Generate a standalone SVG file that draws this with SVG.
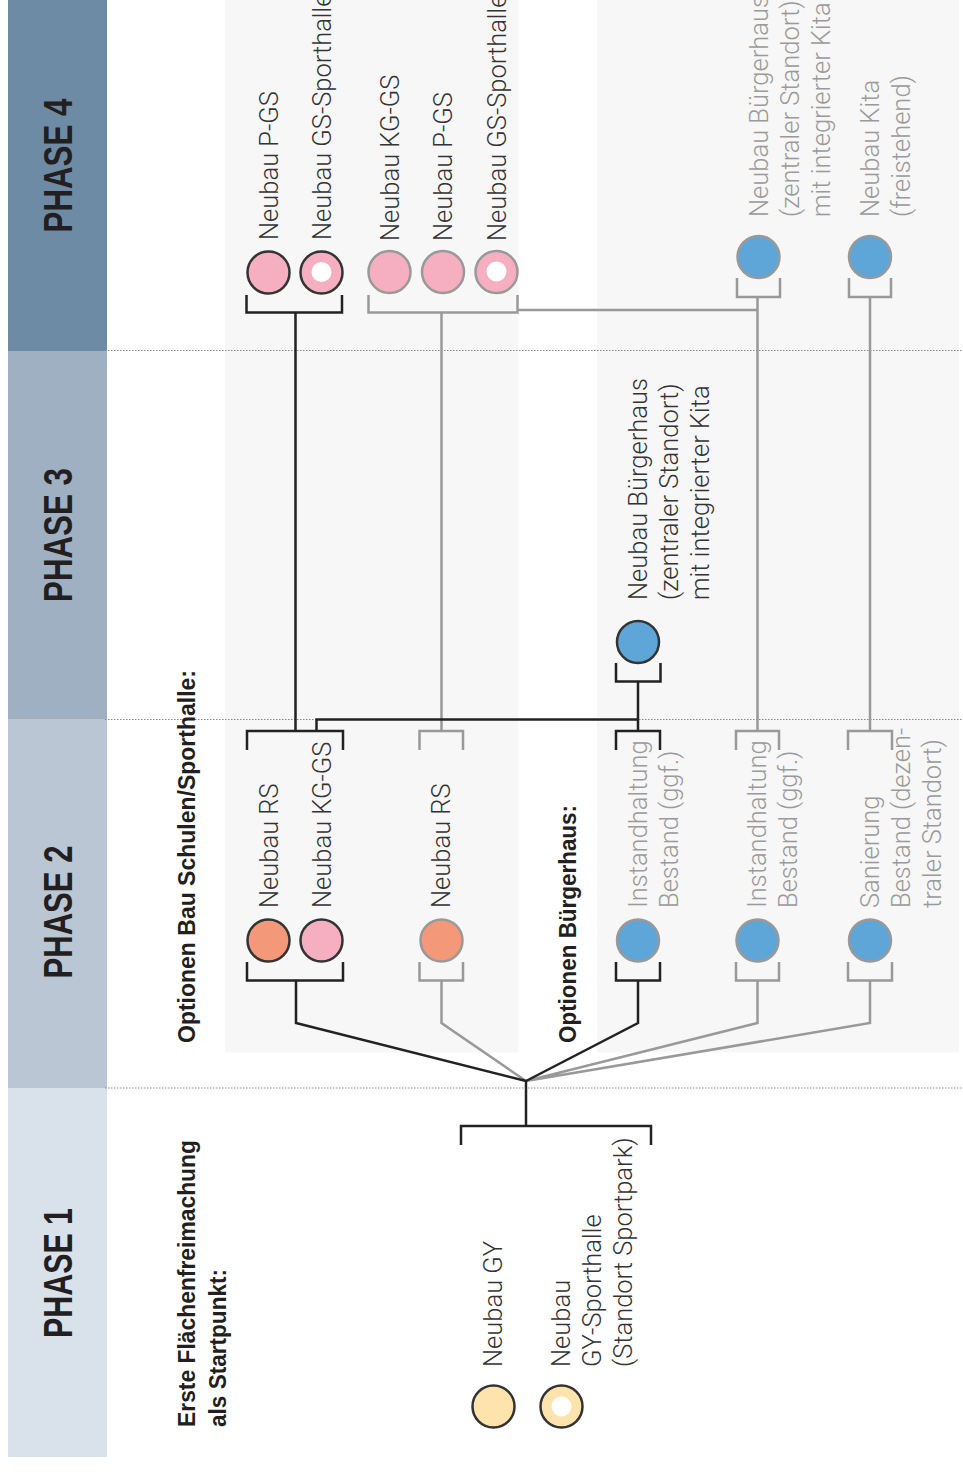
<svg xmlns="http://www.w3.org/2000/svg" width="963" height="1472" viewBox="0 0 963 1472">
<style>
.lbl{font-family:Roboto,"Liberation Sans",sans-serif;font-weight:300;font-size:25.5px;fill:#333}
.lg{fill:#9a9a9a}
.hdr{font-family:"Liberation Sans",Arial,sans-serif;font-weight:bold;font-size:24px;fill:#231f20}
.ph{font-family:"Liberation Sans",Arial,sans-serif;font-weight:bold;font-size:40px;fill:#231f20}
.cd{stroke:#333;stroke-width:2.5}
.cg{stroke:#999;stroke-width:2.5}
.pink{fill:#f5afc1}.orange{fill:#f4987a}.blue{fill:#5ea5d8}.yellow{fill:#fee3ad}
.hole{fill:#fff}
.ld{fill:none;stroke:#222;stroke-width:2.5}
.lgr{fill:none;stroke:#999;stroke-width:2.5}
.dot{stroke:#888;stroke-width:1.2;stroke-dasharray:1.5 1.5}
</style>
<rect width="963" height="1472" fill="#fff"/>
<g id="bands">
<rect x="8" y="0" width="99" height="351" fill="#6e8ba6"/>
<rect x="8" y="351" width="99" height="368" fill="#a0b0c3"/>
<rect x="8" y="719" width="99" height="369" fill="#bbc6d5"/>
<rect x="8" y="1088" width="99" height="369" fill="#d9e1ea"/>
<text class="ph" text-anchor="middle" textLength="134" lengthAdjust="spacingAndGlyphs" transform="translate(71.5,165.5) rotate(-90)">PHASE 4</text>
<text class="ph" text-anchor="middle" textLength="134" lengthAdjust="spacingAndGlyphs" transform="translate(71.5,535) rotate(-90)">PHASE 3</text>
<text class="ph" text-anchor="middle" textLength="133" lengthAdjust="spacingAndGlyphs" transform="translate(71.5,912) rotate(-90)">PHASE 2</text>
<text class="ph" text-anchor="middle" textLength="130" lengthAdjust="spacingAndGlyphs" transform="translate(71.5,1273) rotate(-90)">PHASE 1</text>
</g>
<g id="panels">
<rect x="225" y="0" width="293.5" height="1052.5" fill="#f7f7f7"/>
<rect x="597" y="0" width="362" height="1052.5" fill="#f7f7f7"/>
</g>
<g id="grid">
<line class="dot" x1="105" y1="350.5" x2="963" y2="350.5"/>
<line class="dot" x1="105" y1="719.5" x2="963" y2="719.5"/>
<line class="dot" x1="105" y1="1088" x2="963" y2="1088"/>
</g>
<g id="headers">
<text class="hdr" textLength="373" lengthAdjust="spacingAndGlyphs" transform="translate(195,1043) rotate(-90)">Optionen Bau Schulen/Sporthalle:</text>
<text class="hdr" textLength="238" lengthAdjust="spacingAndGlyphs" transform="translate(576,1043) rotate(-90)">Optionen Bürgerhaus:</text>
<text class="hdr" textLength="287" lengthAdjust="spacingAndGlyphs" transform="translate(195,1427) rotate(-90)">Erste Flächenfreimachung</text>
<text class="hdr" textLength="158" lengthAdjust="spacingAndGlyphs" transform="translate(225.5,1427) rotate(-90)">als Startpunkt:</text>
</g>
<g id="connectors">
<path class="lgr" d="M368.5,295 V312.5 H517.5 V295 M441.5,312.5 V731 M517.5,310 H757.5 M737,278 V297 H780 V278 M757.5,297 V731 M849,278 V297 H891 V278 M870,297 V731 M419.5,750 V731 H463 V750 M736,750 V731 H779 V750 M848,750 V731 H892 V750 M419.5,962 V980.5 H463 V962 M441.5,980.5 V1023 L526,1081 M736,962 V980.5 H779 V962 M757.5,980.5 V1023 L526,1081 M848,962 V980.5 H892 V962 M870,980.5 V1023 L526,1081"/>
<path class="ld" d="M246.5,295 V312.5 H342 V295 M295.5,312.5 V731 M247,750 V731 H343 V750 M316.5,731 V719.5 H638 M616,663 V681.5 H660.5 V663 M638,681.5 V731 M616,750 V731 H660 V750 M247,962 V980.5 H343 V962 M296,980.5 V1023 L526,1081 M616,962 V980.5 H660 V962 M638,980.5 V1023 L526,1081 M526,1081 V1126 M461,1145 V1126 H651 V1145"/>
</g>
<g id="n4-pgs"><circle class="pink cd" cx="268.5" cy="272.5" r="21"/><text class="lbl" transform="translate(277.5,240) rotate(-90)">Neubau P-GS</text></g>
<g id="n4-gss"><circle class="pink cd" cx="321.5" cy="272.5" r="21"/><circle class="hole" cx="321.5" cy="272" r="10"/><text class="lbl" transform="translate(331,240) rotate(-90)">Neubau GS-Sporthalle</text></g>
<g id="n4-kggs"><circle class="pink cg" cx="389.5" cy="272" r="21"/><text class="lbl" transform="translate(398.5,241) rotate(-90)">Neubau KG-GS</text></g>
<g id="n4-pgs2"><circle class="pink cg" cx="443" cy="272" r="21"/><text class="lbl" transform="translate(452,241) rotate(-90)">Neubau P-GS</text></g>
<g id="n4-gss2"><circle class="pink cg" cx="496.5" cy="272" r="21"/><circle class="hole" cx="496.5" cy="271.5" r="10"/><text class="lbl" transform="translate(505.5,241) rotate(-90)">Neubau GS-Sporthalle</text></g>
<g id="n4-bh"><circle class="blue cg" cx="758.5" cy="257" r="21"/><text class="lbl lg" transform="translate(767.5,217) rotate(-90)">Neubau Bürgerhaus<tspan x="0" dy="31">(zentraler Standort)</tspan><tspan x="0" dy="31">mit integrierter Kita</tspan></text></g>
<g id="n4-kita"><circle class="blue cg" cx="870" cy="257" r="21"/><text class="lbl lg" transform="translate(878.5,217) rotate(-90)">Neubau Kita<tspan x="0" dy="31">(freistehend)</tspan></text></g>
<g id="n3-bh"><circle class="blue cd" cx="638" cy="642" r="21"/><text class="lbl" transform="translate(647,600) rotate(-90)">Neubau Bürgerhaus<tspan x="0" dy="31">(zentraler Standort)</tspan><tspan x="0" dy="31">mit integrierter Kita</tspan></text></g>
<g id="n2-rs"><circle class="orange cd" cx="268.5" cy="940.5" r="21"/><text class="lbl" transform="translate(277.5,908) rotate(-90)">Neubau RS</text></g>
<g id="n2-kggs"><circle class="pink cd" cx="321.5" cy="940.5" r="21"/><text class="lbl" transform="translate(330.5,908) rotate(-90)">Neubau KG-GS</text></g>
<g id="n2-rs2"><circle class="orange cg" cx="441.5" cy="940.5" r="21"/><text class="lbl" transform="translate(450,908) rotate(-90)">Neubau RS</text></g>
<g id="n2-ih1"><circle class="blue cg" cx="638" cy="940.5" r="21"/><text class="lbl lg" transform="translate(646.5,908) rotate(-90)">Instandhaltung<tspan x="0" dy="31">Bestand (ggf.)</tspan></text></g>
<g id="n2-ih2"><circle class="blue cg" cx="757.5" cy="940.5" r="21"/><text class="lbl lg" transform="translate(766,908) rotate(-90)">Instandhaltung<tspan x="0" dy="31">Bestand (ggf.)</tspan></text></g>
<g id="n2-san"><circle class="blue cg" cx="870" cy="940.5" r="21"/><text class="lbl lg" transform="translate(878.5,908) rotate(-90)">Sanierung<tspan x="0" dy="31">Bestand (dezen-</tspan><tspan x="0" dy="31">traler Standort)</tspan></text></g>
<g id="n1-gy"><circle class="yellow cd" cx="493.5" cy="1406.5" r="21"/><text class="lbl" transform="translate(502,1367) rotate(-90)">Neubau GY</text></g>
<g id="n1-gys"><circle class="yellow cd" cx="561.5" cy="1406.5" r="21"/><circle class="hole" cx="561.5" cy="1406.5" r="10"/><text class="lbl" transform="translate(569.5,1367) rotate(-90)">Neubau<tspan x="0" dy="31">GY-Sporthalle</tspan><tspan x="0" dy="31">(Standort Sportpark)</tspan></text></g>
</svg>
